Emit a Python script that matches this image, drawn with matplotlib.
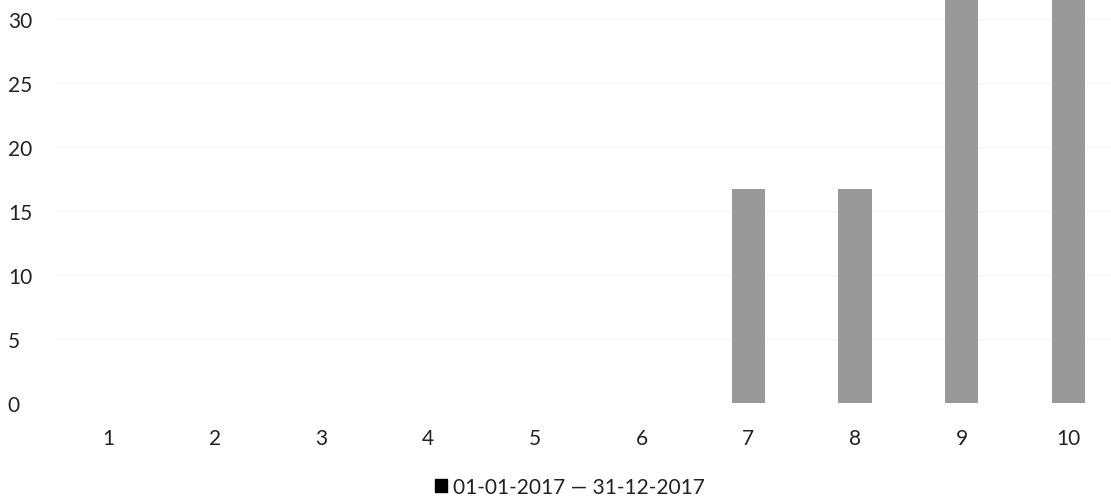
import matplotlib.pyplot as plt
from matplotlib.patches import Patch

# data
categories = [1, 2, 3, 4, 5, 6, 7, 8, 9, 10]
values = [0, 0, 0, 0, 0, 0, 16.7, 16.7, 34, 34]
y_ticks = [0, 5, 10, 15, 20, 25, 30]
series_label = "01-01-2017 \u2014 31-12-2017"

plt.rcParams['font.family'] = ['Lato', 'DejaVu Sans']

fig = plt.figure(figsize=(11.11, 5.02), dpi=100)
ax = fig.add_axes([55 / 1111, 98 / 502, 1056 / 1111, 404 / 502])

ax.bar(categories, values, width=0.31, color='#999999', zorder=2)

ax.set_xlim(0.5, 10.4)
ax.set_ylim(0, 31.56)
ax.set_xticks(categories)
ax.set_xticklabels([str(c) for c in categories])
ax.set_yticks(y_ticks)

# gridlines are barely visible in the reference
ax.grid(axis='y', color='#f7f7f7', linewidth=1, zorder=0)
for spine in ax.spines.values():
    spine.set_visible(False)

ax.tick_params(axis='both', length=0, labelsize=15, colors='#222222')
ax.tick_params(axis='x', pad=18)
ax.tick_params(axis='y', pad=34)
for lbl in ax.get_yticklabels():
    lbl.set_horizontalalignment('left')

handle = Patch(facecolor='black', edgecolor='black', label=series_label)
fig.legend(handles=[handle], loc='center', bbox_to_anchor=(570 / 1111, 14 / 502),
           frameon=False, fontsize=15, handlelength=0.55, handleheight=0.55,
           handletextpad=0.3, labelcolor='#222222')

fig.savefig('out.png', dpi=100)
